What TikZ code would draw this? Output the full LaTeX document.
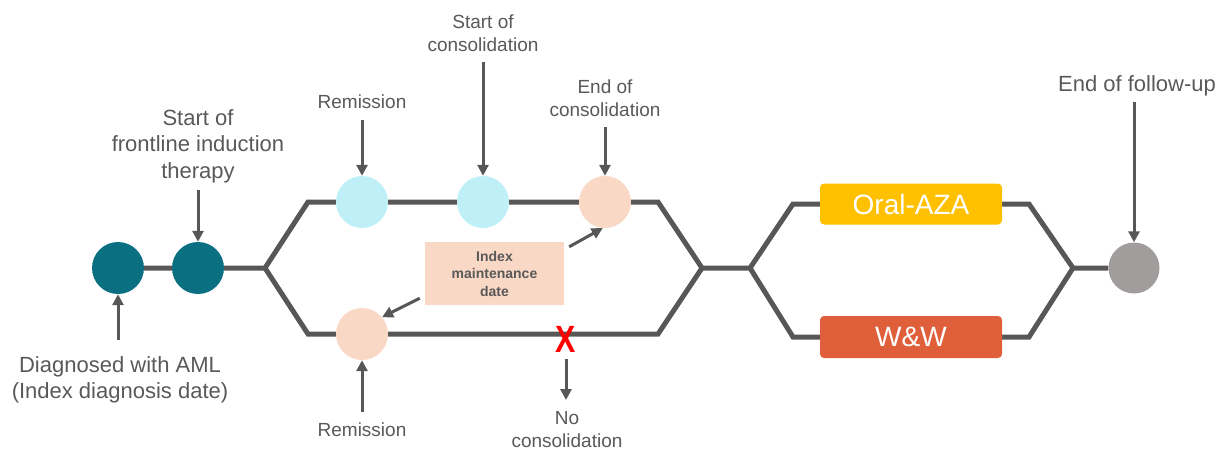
\documentclass[tikz,border=0pt]{standalone}
\usepackage{fontspec}
\setmainfont{Liberation Sans}
\usetikzlibrary{arrows.meta,calc,backgrounds}
\definecolor{cLine}{HTML}{595656}
\definecolor{cText}{HTML}{595959}
\definecolor{cTeal}{HTML}{0B6F82}
\definecolor{cBlue}{HTML}{BFEFF7}
\definecolor{cPeach}{HTML}{FAD8C6}
\definecolor{cGrayDot}{HTML}{A29D9D}
\definecolor{cOral}{HTML}{FFC000}
\definecolor{cWW}{HTML}{E05F3B}
\definecolor{cRed}{HTML}{FF0000}
\begin{document}
\begin{tikzpicture}[x=1pt,y=-1pt,
  track/.style={line width=5pt, draw=cLine},
  arr/.style={line width=3pt, draw=cLine, -{Triangle[length=11pt,width=11pt]}},
  dot/.style={circle, minimum size=52pt, inner sep=0pt},
  lab/.style={font=\fontsize{19}{23.5}\selectfont, text=cText, align=center, inner sep=0pt},
  big/.style={font=\fontsize{22}{26.5}\selectfont, text=cText, align=center, inner sep=0pt},
  tbox/.style={rounded corners=4pt, minimum width=182pt, minimum height=41pt, text=white, font=\fontsize{28}{32}\selectfont, inner sep=0pt}]
\useasboundingbox (0,0) rectangle (1216,450);

% circles
\node[dot, fill=cTeal] (d1) at (118,268) {};
\node[dot, fill=cTeal] (d2) at (198,268) {};
\node[dot, fill=cBlue] (rem1) at (362,202) {};
\node[dot, fill=cBlue] (soc) at (483,202) {};
\node[dot, fill=cPeach] (eoc) at (605,202) {};
\node[dot, fill=cPeach] (rem2) at (362,334) {};
\node[dot, fill=cGrayDot, minimum size=51pt] (fu) at (1134,268) {};

% treatment boxes
\node[tbox, fill=cOral] (oral) at (911,204) {Oral-AZA};
\node[tbox, fill=cWW, minimum height=42pt] (ww) at (911,337) {W\&W};

% index maintenance box
\node[fill=cPeach, minimum width=139pt, minimum height=63pt, inner sep=0pt, align=center,
      text=cText, font=\bfseries\fontsize{14}{17.5}\selectfont] (imd) at (494.5,273.5)
      {Index\\maintenance\\date};

% junction coordinates
\coordinate (sp1) at (265,268);
\coordinate (tl) at (308,202);
\coordinate (bl) at (308,334);
\coordinate (tr) at (658,202);
\coordinate (br) at (658,334);
\coordinate (mg1) at (702,268);
\coordinate (sp2) at (750,268);
\coordinate (tl2) at (793,204);
\coordinate (bl2) at (793,337);
\coordinate (tr2) at (1029,204);
\coordinate (br2) at (1029,337);
\coordinate (mg2) at (1073,268);

\begin{pgfonlayer}{background}
\draw[track] (d1) -- (d2) -- (sp1) -- (tl) -- (rem1) -- (soc) -- (eoc) -- (tr) -- (mg1) -- (sp2) -- (tl2) -- (oral) -- (tr2) -- (mg2) -- (fu);
\draw[track] (sp1) -- (bl) -- (rem2) -- (br) -- (mg1);
\draw[track] (sp2) -- (bl2) -- (ww) -- (br2) -- (mg2);
\end{pgfonlayer}

% red cross
\node[text=cRed, font=\bfseries\fontsize{38}{40}\selectfont, inner sep=0pt, xscale=0.8] (x) at (566,339) {X};

% labels
\node[lab, anchor=south] (remTop) at (362,109) {Remission};
\node[lab, anchor=south] (socLab) at (483,52) {Start of\\consolidation};
\node[lab, anchor=south] (eocLab) at (605,117) {End of\\consolidation};
\node[big, anchor=south] (fli) at (198,183) {Start of\\frontline induction\\therapy};
\node[big, anchor=south] (eofu) at (1137,96) {End of follow-up};
\node[big, anchor=north] (diag) at (120,356) {Diagnosed with AML\\(Index diagnosis date)};
\node[lab, anchor=north] (remBot) at (362,423) {Remission};
\node[lab, anchor=north] (nocons) at (567,411) {No\\consolidation};

% arrows
\draw[arr, shorten <=11pt] (remTop.south) -- (rem1.north);
\draw[arr, shorten <=10pt] (socLab.south) -- (soc.north);
\draw[arr, shorten <=10pt] (eocLab.south) -- (eoc.north);
\draw[arr, shorten <=7pt] (fli.south) -- (d2.north);
\draw[arr, shorten <=6pt] (eofu.south -| fu) -- (fu.north);
\draw[arr, shorten <=16pt] (diag.north -| d1) -- (d1.south);
\draw[arr, shorten <=11pt] (remBot.north) -- (rem2.south);
\draw[arr, shorten <=7pt, shorten >=11pt] (x.south) -- (x.south |- nocons.north);
\draw[arr] ($(imd.north east)+(5,5)$) -- (eoc.265);
\draw[arr] ($(imd.south west)+(-5,-7)$) -- (rem2.40);
\end{tikzpicture}
\end{document}
